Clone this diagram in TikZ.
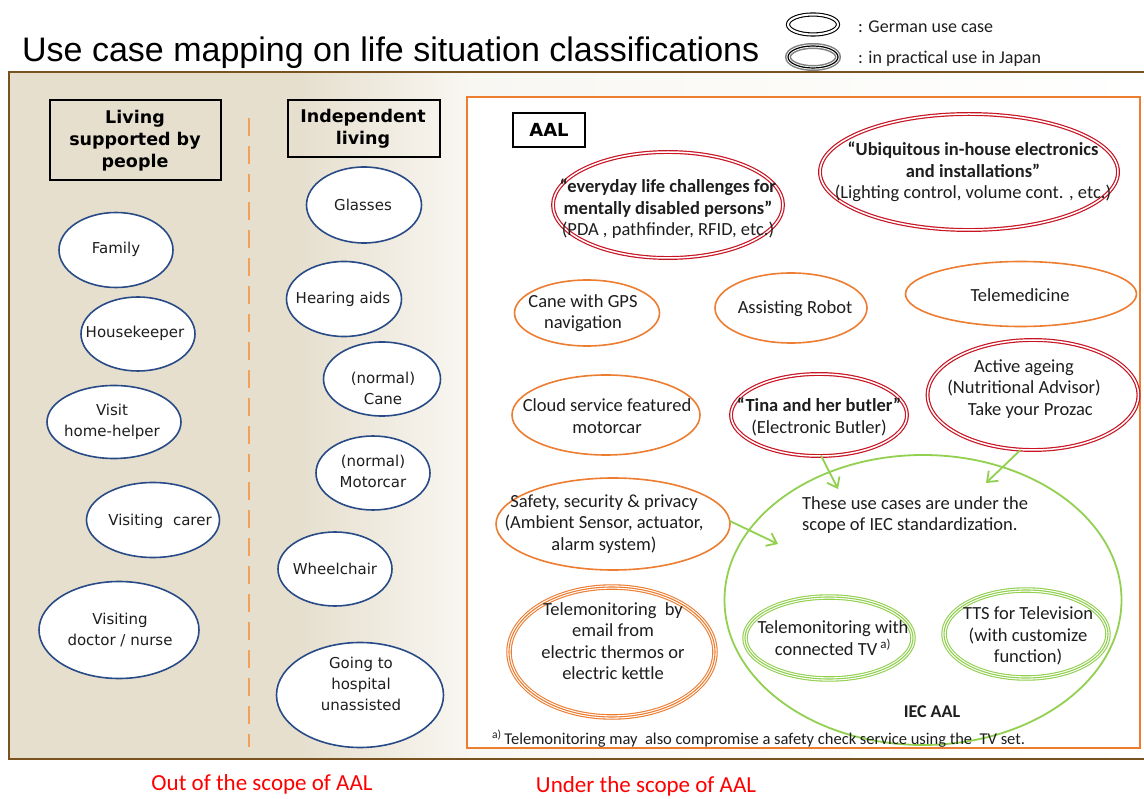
\documentclass[tikz,border=0pt]{standalone}
\usepackage{fontspec}
\setmainfont{Carlito}
\newfontfamily\dv{DejaVu Sans}
\newfontfamily\lsans{Liberation Sans}
\usetikzlibrary{shapes.geometric,arrows.meta}
\definecolor{brownB}{RGB}{122,82,32}
\definecolor{beige}{RGB}{230,223,206}
\definecolor{cream}{RGB}{249,247,242}
\definecolor{blueE}{RGB}{40,75,135}
\definecolor{orangeE}{RGB}{237,125,49}
\definecolor{dashO}{RGB}{242,160,90}
\definecolor{redE}{RGB}{200,20,35}
\definecolor{greenE}{RGB}{146,208,80}
\definecolor{redT}{RGB}{255,0,0}
\definecolor{txtC}{RGB}{30,30,30}
\begin{document}
\begin{tikzpicture}[x=1pt,y=-1pt,
  uc/.style={ellipse, inner sep=0pt, fill=white},
  blueell/.style={uc, draw=blueE, line width=1.6pt},
  orell/.style={uc, draw=orangeE, line width=1.6pt},
  grell/.style={uc, draw=greenE, line width=1.6pt},
  gerell/.style={uc, draw=#1, line width=1.2pt, double=white, double distance=1.5pt},
  jpell/.style={uc, draw=#1, line width=5.5pt, postaction={draw=white, line width=3.3pt}, postaction={draw=#1, line width=1.1pt}},
  txt/.style={align=center, inner sep=0pt, text=txtC, font=\fontsize{18.5}{21.5}\selectfont},
  ltxt/.style={align=center, inner sep=0pt, text=txtC, font=\dv\fontsize{15}{21}\selectfont},
  hdr/.style={draw=black, line width=1.1pt, inner sep=0pt},
  hdrtxt/.style={align=center, inner sep=0pt, font=\dv\bfseries\fontsize{17.5}{22}\selectfont},
  garrow/.style={draw=greenE, line width=1.8pt, -{Straight Barb[length=9pt,width=14pt,line width=1.8pt]}},
  scopetxt/.style={text=redT, inner sep=0pt, font=\fontsize{23}{27}\selectfont}
]
\useasboundingbox (0,0) rectangle (1144,799);
% background
\fill[beige] (9,72) rectangle (300,759);
\shade[left color=beige, right color=cream] (299,72) rectangle (470,759);
\shade[left color=cream, right color=white] (469,72) rectangle (1150,759);
\draw[brownB, line width=2.5pt] (1150,72) -- (9,72) -- (9,759) -- (1150,759);
% title
\node[anchor=base west, inner sep=0pt, font=\lsans\fontsize{34}{40}\selectfont] (title) at (22,62) {Use case mapping on life situation classifications};
% legend
\node[uc, draw=black, line width=1.1pt, double=white, double distance=2pt, minimum width=50pt, minimum height=20pt] (lg1) at (813,24.5) {};
\node[uc, draw=gray, line width=6pt, postaction={draw=white, line width=3pt}, postaction={draw=black, line width=1.2pt}, minimum width=50pt, minimum height=22pt] (lg2) at (813,57) {};
\node[anchor=west, inner sep=0pt, text=txtC, font=\fontsize{18}{20}\selectfont] (lg1t) at (858,27) {: German use case};
\node[anchor=west, inner sep=0pt, text=txtC, font=\fontsize{18}{20}\selectfont] (lg2t) at (858,59) {: in practical use in Japan};
% dashed divider
\coordinate (dv1) at (249,118);
\coordinate (dv2) at (249,747);
\draw[dashO, line width=2.6pt, dash pattern=on 18pt off 10pt] (dv1) -- (dv2);
% headers
\node[hdr, minimum width=171pt, minimum height=80pt] (h1) at (135.5,140) {};
\node[hdrtxt] (h1t) at (135,141) {Living\\supported by\\people};
\node[hdr, minimum width=152pt, minimum height=57pt] (h2) at (364,128.5) {};
\node[hdrtxt] (h2t) at (363,129) {Independent\\living};
% left column
\node[blueell, minimum width=114pt, minimum height=75pt] (fam) at (116,250) {};
\node[ltxt] at (116,249) {Family};
\node[blueell, minimum width=114pt, minimum height=74pt] (hk) at (138,334) {};
\node[ltxt] at (135,333) {Housekeeper};
\node[blueell, minimum width=134pt, minimum height=73pt] (vh) at (114,422) {};
\node[ltxt] at (112,422) {Visit\\home-helper};
\node[blueell, minimum width=133pt, minimum height=75pt] (vc) at (153,520) {};
\node[ltxt] at (160,521) {Visiting\ \ carer};
\node[blueell, minimum width=160pt, minimum height=97pt] (vd) at (119,630) {};
\node[ltxt] at (120,630) {Visiting\\doctor / nurse};
% right column
\node[blueell, minimum width=115pt, minimum height=76pt] (gl) at (364,205) {};
\node[ltxt] at (363,205) {Glasses};
\node[blueell, minimum width=115pt, minimum height=75pt] (ha) at (344,299) {};
\node[ltxt] at (343,299) {Hearing aids};
\node[blueell, minimum width=117pt, minimum height=74pt] (cane) at (382,379) {};
\node[ltxt] at (383,388) {(normal)\\Cane};
\node[blueell, minimum width=114pt, minimum height=74pt] (mc) at (373,473) {};
\node[ltxt] at (373,471) {(normal)\\Motorcar};
\node[blueell, minimum width=114pt, minimum height=74pt] (wc) at (335,569) {};
\node[ltxt] at (335,569) {Wheelchair};
\node[blueell, minimum width=167pt, minimum height=105pt] (gh) at (360,695) {};
\node[ltxt] at (361,684) {Going to\\hospital\\unassisted};
% AAL box
\draw[orangeE, line width=2pt, fill=white] (467,97) rectangle (1140,748);
\node[hdr, minimum width=72pt, minimum height=34pt] (aal) at (549,130) {};
\node[inner sep=0pt, font=\dv\bfseries\fontsize{18}{22}\selectfont] (aalt) at (549,130) {AAL};
% IEC circle
\node[uc, fill=none, draw=greenE, line width=1.8pt, minimum width=397pt, minimum height=290pt] (iec) at (923,600) {};
% AAL use cases
\node[gerell=redE, minimum width=230pt, minimum height=106pt] (edl) at (668,205) {};
\node[txt] at (668,209) {\textbf{“everyday life challenges for}\\\textbf{mentally disabled persons”}\\(PDA , pathfinder, RFID, etc.)};
\node[gerell=redE, minimum width=298pt, minimum height=116pt] (ubi) at (969,172) {};
\node[txt] at (973,172) {\textbf{“Ubiquitous in-house electronics}\\\textbf{and installations”}\\(Lighting control, volume cont. , etc.)};
\node[orell, minimum width=145pt, minimum height=66pt] (cgps) at (587,313) {};
\node[txt] at (583,313) {Cane with GPS\\navigation};
\node[orell, minimum width=152pt, minimum height=70pt] (rob) at (791,308) {};
\node[txt] at (795,309) {Assisting Robot};
\node[orell, minimum width=231pt, minimum height=65pt] (tele) at (1021,294) {};
\node[txt] at (1020,295) {Telemedicine};
\node[orell, minimum width=188pt, minimum height=80pt] (cloud) at (606,415) {};
\node[txt] at (607,416) {Cloud service featured\\motorcar};
\node[gerell=redE, minimum width=176pt, minimum height=82pt] (tina) at (819,415) {};
\node[txt] at (819,417) {\textbf{“Tina and her butler”}\\(Electronic Butler)};
\node[gerell=redE, minimum width=211pt, minimum height=110pt] (act) at (1033,395) {};
\node[txt] at (1024,389) {Active ageing\\(Nutritional Advisor)\\\ \ \ Take your Prozac};
\node[orell, minimum width=234pt, minimum height=92pt] (saf) at (613,524) {};
\node[txt] at (604,524) {Safety, security \& privacy\\(Ambient Sensor, actuator,\\alarm system)};
\node[jpell=orangeE, minimum width=206pt, minimum height=130pt] (tmail) at (612,652) {};
\node[txt] at (613,641) {Telemonitoring\ \ by\\email from\\electric thermos or\\electric kettle};
\node[jpell=greenE, minimum width=168pt, minimum height=82pt] (ttv) at (829,638) {};
\node[txt] at (833,638) {Telemonitoring with\\connected TV\,\textsuperscript{a)}};
\node[jpell=greenE, minimum width=164pt, minimum height=88pt] (tts) at (1026,634) {};
\node[txt] at (1028,636) {TTS for Television\\(with customize\\function)};
% texts
\node[txt, align=left, anchor=west] (scope) at (802,515) {These use cases are under the\\scope of IEC standardization.};
\node[txt, font=\bfseries\fontsize{18}{21.5}\selectfont] (iect) at (932,712) {IEC AAL};
\node[anchor=west, inner sep=0pt, text=txtC, font=\fontsize{16.5}{18}\selectfont] (fn) at (492,739) {\textsuperscript{a)}\,Telemonitoring may\ \ also compromise a safety check service using the\ \ TV set.};
% arrows
\coordinate (a1) at (838,489);
\coordinate (a2) at (986,483);
\coordinate (a3) at (778,544);
\draw[garrow] (tina.south) ++(2,-1) -- (a1);
\draw[garrow] (act.257) -- (a2);
\draw[garrow] (saf.east) ++(-1,-3) -- (a3);
% scope labels
\node[scopetxt] (out) at (262,784) {Out of the scope of AAL};
\node[scopetxt] (under) at (646,786) {Under the scope of AAL};
\end{tikzpicture}
\end{document}
